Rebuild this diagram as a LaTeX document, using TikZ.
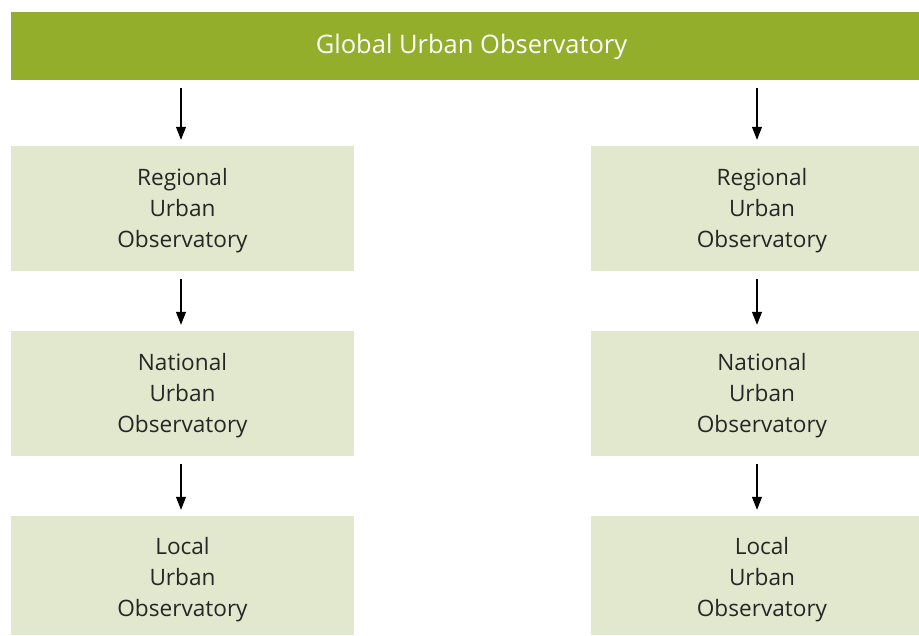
\documentclass[tikz,border=0pt]{standalone}
\usepackage{fontspec}
\setmainfont{Open Sans}
\usetikzlibrary{arrows.meta}
\definecolor{topgreen}{HTML}{92AE2B}
\definecolor{boxgreen}{HTML}{E2E8CD}
\begin{document}
\begin{tikzpicture}[x=1pt,y=-1pt,
  obsbox/.style={fill=boxgreen, draw=none, minimum width=343pt, minimum height=125pt, inner sep=0pt},
  boxtext/.style={align=center, inner sep=0pt, font=\fontsize{22.6}{31}\selectfont, text=black!85},
  arr/.style={-{Triangle[width=10pt,length=13pt]}, line width=1.1pt, shorten <=8pt, shorten >=6pt}]
\useasboundingbox (0,0) rectangle (919,635);
\node[fill=topgreen, minimum width=921pt, minimum height=68pt, inner sep=0pt] (top) at (471.5,46) {};
\node[text=white, inner sep=0pt, font=\fontsize{25.5}{30}\selectfont] (toptext) at ([yshift=-1pt]top.center) {Global Urban Observatory};
\node[obsbox] (rl) at (182.5,208.5) {};
\node[obsbox] (nl) at (182.5,393.5) {};
\node[obsbox, minimum height=119pt] (ll) at (182.5,575.5) {};
\node[obsbox, minimum width=342pt] (rr) at (762,208.5) {};
\node[obsbox, minimum width=342pt] (nr) at (762,393.5) {};
\node[obsbox, minimum width=342pt, minimum height=119pt] (lr) at (762,575.5) {};
\node[boxtext] (trl) at ([yshift=-2.5pt]rl.center) {Regional\\Urban\\Observatory};
\node[boxtext] (tnl) at ([yshift=-2.5pt]nl.center) {National\\Urban\\Observatory};
\node[boxtext] (tll) at ([yshift=-4pt]ll.center) {Local\\Urban\\Observatory};
\node[boxtext] (trr) at ([yshift=-2.5pt]rr.center) {Regional\\Urban\\Observatory};
\node[boxtext] (tnr) at ([yshift=-2.5pt]nr.center) {National\\Urban\\Observatory};
\node[boxtext] (tlr) at ([yshift=-4pt]lr.center) {Local\\Urban\\Observatory};
\coordinate (al) at (181,0);
\coordinate (ar) at (757,0);
\draw[arr] (al |- top.south) -- (al |- rl.north);
\draw[arr] (al |- rl.south) -- (al |- nl.north);
\draw[arr] (al |- nl.south) -- (al |- ll.north);
\draw[arr] (ar |- top.south) -- (ar |- rr.north);
\draw[arr] (ar |- rr.south) -- (ar |- nr.north);
\draw[arr] (ar |- nr.south) -- (ar |- lr.north);
\end{tikzpicture}
\end{document}
